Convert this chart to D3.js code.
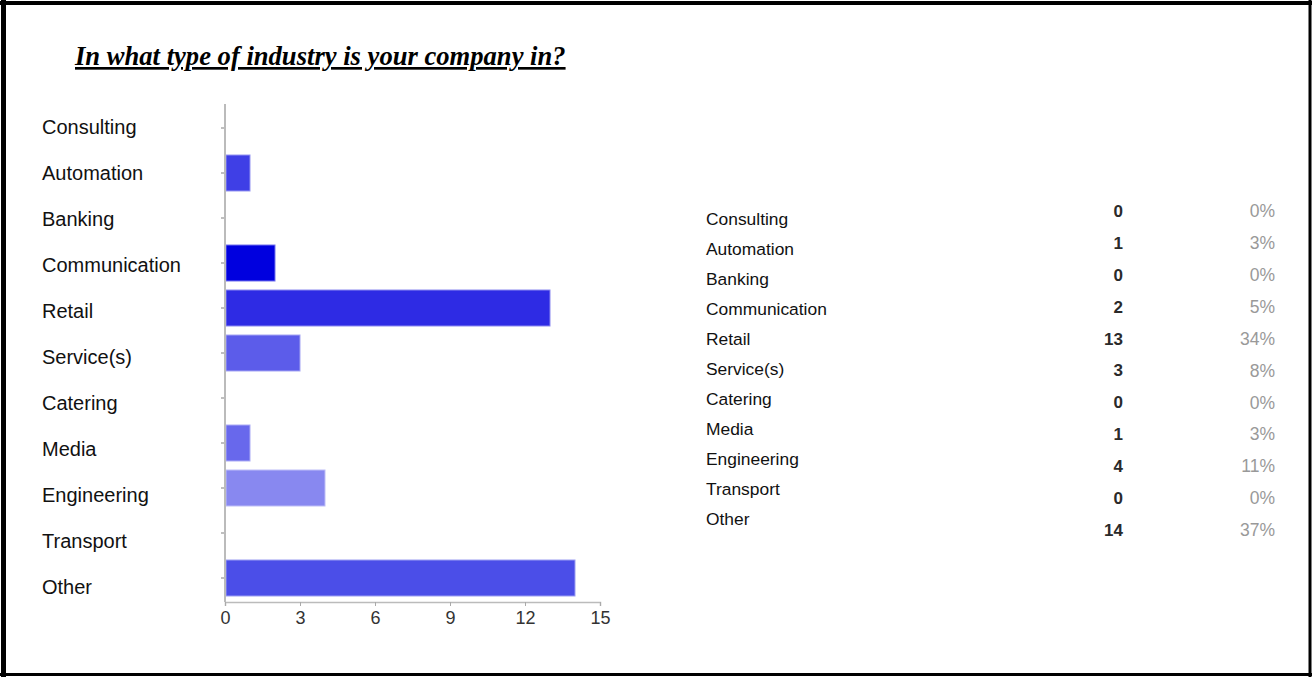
<!DOCTYPE html>
<html>
<head>
<meta charset="utf-8">
<script src="https://cdn.jsdelivr.net/npm/d3@7"></script>
<style>
  html, body { margin: 0; padding: 0; background: #fff; }
  svg { display: block; }
</style>
</head>
<body>
<svg id="chart" width="1312" height="677"></svg>
<script>
// Survey answers: industry of the respondent's company
const categories = ["Consulting", "Automation", "Banking", "Communication", "Retail",
  "Service(s)", "Catering", "Media", "Engineering", "Transport", "Other"];
const counts = [0, 1, 0, 2, 13, 3, 0, 1, 4, 0, 14];
const xTicks = [0, 3, 6, 9, 12, 15];
const titleText = "In what type of industry is your company in?";

// bar fill per category
const barColors = ["#3f3fe6", "#3f3fe6", "#3f3fe6", "#0000df", "#2e2be4",
  "#5c5cea", "#5c5cea", "#6868ec", "#8888f0", "#8888f0", "#4b4ee8"];

const total = d3.sum(counts);
const svg = d3.select("#chart");
const sans = "'Liberation Sans', Arial, sans-serif";

// frame
svg.append("rect").attr("x", 0).attr("y", 0).attr("width", 1312).attr("height", 677).attr("fill", "#fff");
const frame = svg.append("g").attr("stroke", "#000");
frame.append("line").attr("x1", 0).attr("x2", 1312).attr("y1", 3).attr("y2", 3).attr("stroke-width", 4);
frame.append("line").attr("x1", 3.5).attr("x2", 3.5).attr("y1", 0).attr("y2", 677).attr("stroke-width", 5);
frame.append("line").attr("x1", 1310).attr("x2", 1310).attr("y1", 0).attr("y2", 677).attr("stroke-width", 3);
frame.append("line").attr("x1", 0).attr("x2", 1312).attr("y1", 674.5).attr("y2", 674.5).attr("stroke-width", 3);

// title
svg.append("text")
  .attr("x", 75).attr("y", 65)
  .attr("font-family", "'Liberation Serif', 'Times New Roman', serif")
  .attr("font-size", 26.6).attr("font-weight", "bold").attr("font-style", "italic")
  .attr("text-decoration", "underline")
  .attr("fill", "#000")
  .text(titleText);

// bar chart scales
const x = d3.scaleLinear().domain([0, 15]).range([225, 600]);
const y = d3.scaleBand().domain(categories).range([105.5, 600.5]).paddingInner(0.2).paddingOuter(0.1);
const yLabel = d3.scalePoint().domain(categories).range([127, 587]);

// bars
svg.append("g").selectAll("rect")
  .data(categories.map((c, i) => ({ c, v: counts[i], color: barColors[i] })))
  .join("rect")
  .attr("x", x(0) + 1)
  .attr("y", d => y(d.c))
  .attr("width", d => Math.max(0, x(d.v) - x(0) - 1))
  .attr("height", y.bandwidth())
  .attr("fill", d => d.color)
  .attr("stroke", d => d3.interpolateRgb(d.color, "#fff")(0.45))
  .attr("stroke-width", d => d.v > 0 ? 1 : 0);

// y axis line with left ticks
const yAxis = svg.append("g").attr("transform", `translate(${x(0)},0)`)
  .call(d3.axisLeft(y).tickSize(4).tickFormat(""));
yAxis.select(".domain").remove();
yAxis.selectAll(".tick line").attr("stroke", "#aaa").attr("stroke-width", 1.5);
svg.append("line").attr("x1", x(0)).attr("x2", x(0)).attr("y1", 104).attr("y2", 602)
  .attr("stroke", "#bbb").attr("stroke-width", 2);

// category labels
svg.append("g").selectAll("text")
  .data(categories).join("text")
  .attr("x", 42).attr("y", d => yLabel(d))
  .attr("dy", "0.35em")
  .attr("font-family", sans)
  .attr("font-size", 20)
  .attr("fill", "#111")
  .text(d => d);

// x axis
const xAxis = svg.append("g").attr("transform", "translate(0,602)")
  .call(d3.axisBottom(x).tickValues(xTicks).tickSize(4).tickPadding(5));
xAxis.select(".domain").attr("stroke", "#bbb").attr("stroke-width", 1.5);
xAxis.selectAll(".tick line").attr("stroke", "#aaa");
xAxis.selectAll(".tick text")
  .attr("font-family", sans)
  .attr("font-size", 18).attr("fill", "#333");

// summary table
const tLabel = d3.scalePoint().domain(categories).range([219, 519]);
const tValue = d3.scalePoint().domain(categories).range([211, 530]);
const table = svg.append("g");
table.selectAll("text.name")
  .data(categories).join("text").attr("class", "name")
  .attr("x", 706).attr("y", d => tLabel(d)).attr("dy", "0.35em")
  .attr("font-family", sans)
  .attr("font-size", 17.4).attr("fill", "#111")
  .text(d => d);
table.selectAll("text.count")
  .data(categories).join("text").attr("class", "count")
  .attr("x", 1123).attr("y", d => tValue(d)).attr("dy", "0.35em")
  .attr("text-anchor", "end")
  .attr("font-family", sans)
  .attr("font-size", 17).attr("font-weight", "bold").attr("fill", "#2a2a2a")
  .text((d, i) => counts[i]);
table.selectAll("text.pct")
  .data(categories).join("text").attr("class", "pct")
  .attr("x", 1275).attr("y", d => tValue(d)).attr("dy", "0.35em")
  .attr("text-anchor", "end")
  .attr("font-family", sans)
  .attr("font-size", 17.5).attr("fill", "#999")
  .text((d, i) => Math.round(counts[i] / total * 100) + "%");
</script>
</body>
</html>
